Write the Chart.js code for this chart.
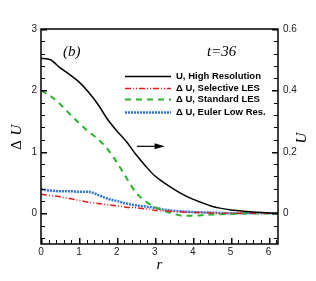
<!DOCTYPE html>
<html>
<head>
<meta charset="utf-8">
<script src="https://cdn.jsdelivr.net/npm/chart.js@4"></script>
<style>
  html, body { margin: 0; padding: 0; background: #fff; }
  #wrap { width: 316px; height: 281px; }
</style>
</head>
<body>
<div id="wrap"><canvas id="chart" width="316" height="281"></canvas></div>
<script>
// radius samples shared by all curves
const r = [0, 0.25, 0.5, 0.75, 1, 1.25, 1.5, 1.75, 2, 2.25, 2.5, 2.75, 3, 3.25, 3.5, 3.75, 4, 4.25, 4.5, 4.75, 5, 5.25, 5.5, 5.75, 6, 6.25];

// U, high resolution (right axis)
const uHigh = [0.505, 0.500, 0.474, 0.452, 0.428, 0.395, 0.355, 0.307, 0.268, 0.234, 0.192, 0.155, 0.122, 0.099, 0.079, 0.061, 0.046, 0.034, 0.023, 0.016, 0.011, 0.008, 0.005, 0.003, 0.001, 0.0];
// delta U curves (left axis)
const dSelective = [0.31, 0.29, 0.27, 0.24, 0.21, 0.18, 0.16, 0.14, 0.12, 0.10, 0.09, 0.07, 0.05, 0.04, 0.03, 0.02, 0.015, 0.01, 0.005, 0, 0, 0, 0, 0, 0, 0];
const dStandard = [2.0, 1.91, 1.78, 1.62, 1.47, 1.33, 1.21, 1.05, 0.83, 0.58, 0.34, 0.20, 0.10, 0.04, -0.01, -0.04, -0.04, -0.03, -0.02, -0.015, -0.01, -0.005, 0, 0, 0, 0];
const dEuler = [0.39, 0.37, 0.36, 0.36, 0.35, 0.35, 0.30, 0.24, 0.20, 0.16, 0.13, 0.11, 0.09, 0.06, 0.04, 0.03, 0.02, 0.015, 0.01, 0.005, 0, 0, 0, 0, 0, 0];

const seriesLabels = ['U, High Resolution', '\u0394 U, Selective LES', '\u0394 U, Standard LES', '\u0394 U, Euler Low Res.'];
const xTicks = [0, 1, 2, 3, 4, 5, 6];
const leftTicks = [0, 1, 2, 3];
const rightTicks = [0, 0.2, 0.4, 0.6];

function pts(vals) {
    return r.map((x, i) => ({ x: x, y: vals[i] }));
}

const tickFont = { family: 'Liberation Sans', size: 10 };

function seg(ctx, x0, y0, x1, y1) {
    ctx.beginPath();
    ctx.moveTo(x0, y0);
    ctx.lineTo(x1, y1);
    ctx.stroke();
}

// frame, inward ticks, legend, labels and arrow
const decor = {
    id: 'decor',
    afterDraw(chart) {
        const ctx = chart.ctx;
        const a = chart.chartArea;
        const sx = chart.scales.x, sy = chart.scales.y, sy2 = chart.scales.y2;
        ctx.save();
        ctx.setLineDash([]);
        ctx.strokeStyle = '#000';
        ctx.fillStyle = '#000';
        ctx.lineWidth = 1.5;
        ctx.strokeRect(a.left, a.top, a.right - a.left, a.bottom - a.top);

        const L = Math.round(a.left), R = Math.round(a.right), B = Math.round(a.bottom);
        // x ticks, minor every 0.2
        for (let i = 0; i <= 31; i++) {
            const px = Math.round(sx.getPixelForValue(i * 0.2));
            const major = i % 5 === 0;
            ctx.fillRect(px, B - (major ? 6 : 4), major ? 1.5 : 1, major ? 6 : 4);
        }
        // left ticks
        for (let i = -2; i <= 15; i++) {
            const py = Math.round(sy.getPixelForValue(i * 0.2));
            const major = i % 5 === 0;
            ctx.fillRect(L, py, major ? 6 : 4, major ? 1.5 : 1);
        }
        // right ticks
        for (let i = -2; i <= 15; i++) {
            const py = Math.round(sy2.getPixelForValue(i * 0.04));
            const major = i % 5 === 0;
            ctx.fillRect(R - (major ? 6 : 4), py, major ? 6 : 4, major ? 1.5 : 1);
        }

        // legend
        const rows = [76, 88, 99, 112];
        chart.data.datasets.forEach((ds, i) => {
            const y = rows[i] + 0.5;
            ctx.save();
            ctx.strokeStyle = ds.borderColor;
            ctx.lineWidth = ds.borderWidth;
            ctx.setLineDash(ds.borderDash || []);
            seg(ctx, 125, y, 171, y);
            ctx.restore();
            ctx.font = 'bold 9.5px "Liberation Sans"';
            ctx.textBaseline = 'middle';
            ctx.textAlign = 'left';
            ctx.fillText(seriesLabels[i], 176, rows[i]);
        });

        // panel labels
        ctx.font = 'italic 15px "Liberation Serif"';
        ctx.textBaseline = 'middle';
        ctx.textAlign = 'left';
        ctx.fillText('(b)', 63, 52);
        ctx.fillText('t=36', 207, 52);

        // arrow pointing to the right axis
        const ay = sy.getPixelForValue(1.09);
        const ax0 = sx.getPixelForValue(2.53), ax1 = sx.getPixelForValue(3.26);
        ctx.lineWidth = 1.2;
        seg(ctx, ax0, ay, ax1 - 6, ay);
        ctx.beginPath();
        ctx.moveTo(ax1, ay);
        ctx.lineTo(ax1 - 10, ay - 3);
        ctx.lineTo(ax1 - 10, ay + 3);
        ctx.closePath();
        ctx.fill();

        // axis titles
        ctx.font = 'italic 15px "Liberation Serif"';
        ctx.textAlign = 'center';
        ctx.fillText('r', (a.left + a.right) / 2, 265);
        ctx.save();
        ctx.translate(17, 137);
        ctx.rotate(-Math.PI / 2);
        ctx.font = '15px "Liberation Serif"';
        ctx.fillText('\u0394', -8, 0);
        ctx.font = 'italic 15px "Liberation Serif"';
        ctx.fillText('U', 7, 0);
        ctx.restore();
        ctx.save();
        ctx.translate(302, 138);
        ctx.rotate(-Math.PI / 2);
        ctx.fillText('U', 0, 0);
        ctx.restore();
        ctx.restore();
    }
};

const ctx = document.getElementById('chart').getContext('2d');
new Chart(ctx, {
    type: 'line',
    data: {
        datasets: [{
            label: seriesLabels[0],
            data: pts(uHigh),
            yAxisID: 'y2',
            borderColor: '#000',
            borderWidth: 1.5
        }, {
            label: seriesLabels[1],
            data: pts(dSelective),
            yAxisID: 'y',
            borderColor: 'rgb(225,30,30)',
            borderWidth: 1.5,
            borderDash: [6, 2, 1, 2, 1, 2]
        }, {
            label: seriesLabels[2],
            data: pts(dStandard),
            yAxisID: 'y',
            borderColor: 'rgb(40,180,40)',
            borderWidth: 2,
            borderDash: [6, 5]
        }, {
            label: seriesLabels[3],
            data: pts(dEuler),
            yAxisID: 'y',
            borderColor: 'rgb(50,115,210)',
            borderWidth: 2.5,
            borderDash: [2, 1]
        }]
    },
    options: {
        responsive: false,
        animation: false,
        elements: { point: { radius: 0 }, line: { cubicInterpolationMode: 'monotone' } },
        layout: { padding: { top: 29, left: 0, right: 0, bottom: 0 } },
        plugins: { legend: { display: false }, tooltip: { enabled: false } },
        scales: {
            x: {
                type: 'linear',
                min: 0,
                max: 6.25,
                grid: { display: false, drawTicks: false },
                border: { display: false },
                afterBuildTicks: s => { s.ticks = xTicks.map(v => ({ value: v })); },
                afterFit: s => { s.height = 37; },
                ticks: { font: tickFont, color: '#222', padding: 2, maxRotation: 0 }
            },
            y: {
                min: -0.5,
                max: 3,
                position: 'left',
                grid: { display: false, drawTicks: false },
                border: { display: false },
                afterBuildTicks: s => { s.ticks = leftTicks.map(v => ({ value: v })); },
                afterFit: s => { s.width = 41; },
                ticks: { font: tickFont, color: '#222', padding: 4 }
            },
            y2: {
                min: -0.1,
                max: 0.6,
                position: 'right',
                grid: { display: false, drawTicks: false },
                border: { display: false },
                afterBuildTicks: s => { s.ticks = rightTicks.map(v => ({ value: v })); },
                afterFit: s => { s.width = 38; },
                ticks: { font: tickFont, color: '#222', padding: 5, callback: v => String(v) }
            }
        }
    },
    plugins: [decor]
});
</script>
</body>
</html>
